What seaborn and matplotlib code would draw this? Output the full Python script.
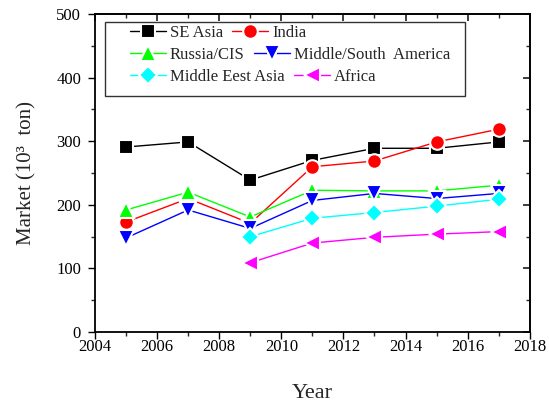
import matplotlib
matplotlib.use('Agg')
import matplotlib.pyplot as plt
import matplotlib.patches as mpatches
import seaborn as sns
import pandas as pd

years = [2005, 2007, 2009, 2011, 2013, 2015, 2017]
years_new = [2009, 2011, 2013, 2015, 2017]

se_asia = [291, 299, 239, 270, 289, 289, 299]
india = [173, 210, 171, 260, 269, 299, 319]
russia_cis = [192, 220, 181, 223, 222, 222, 231]
mid_south_america = [148, 192, 163, 207, 218, 210, 218]
middle_east_asia = [150, 179, 188, 198, 209]
africa = [109, 140, 149, 154, 158]

series = [
    ("SE Asia", years, se_asia, "black", "s", 9.5),
    ("India", years, india, "red", "o", 10.5),
    ("Russia/CIS", years, russia_cis, "#00ff00", "^", 11.5),
    ("Middle/South  America", years, mid_south_america, "blue", "v", 11.5),
    ("Middle Eest Asia", years_new, middle_east_asia, "cyan", "D", 9),
    ("Africa", years_new, africa, "magenta", "<", 11.5),
]

sns.set_theme(style="ticks")
plt.rcParams['font.family'] = ['Liberation Serif', 'DejaVu Serif']

fig = plt.figure(figsize=(5.49, 4.03), dpi=100)
ax = fig.add_axes([0.173, 0.176, 0.792, 0.789])

handles = {}
for name, xs, ys, color, marker, ms in series:
    df = pd.DataFrame({"year": xs, "market": ys})
    sns.lineplot(data=df, x="year", y="market", ax=ax, color=color,
                 marker=marker, markersize=ms,
                 markeredgecolor="white", markeredgewidth=1.5,
                 linewidth=1.0, label=name, legend=False)
    handles[name] = ax.get_lines()[-1]

ax.set_xlim(2004, 2018)
ax.set_ylim(0, 500)
ax.set_xticks(range(2004, 2019, 2))
ax.set_yticks(range(0, 501, 100))
ax.set_xticks(range(2005, 2018, 2), minor=True)
ax.set_yticks(range(50, 500, 100), minor=True)
ax.tick_params(which='major', direction='out', length=5, width=1,
               labelsize=12, colors='black')
ax.tick_params(axis='x', which='major', pad=0)
ax.tick_params(axis='y', which='major', pad=5)
ax.tick_params(which='minor', direction='out', length=3, width=1)
for sp in ax.spines.values():
    sp.set_linewidth(1.3)
    sp.set_color('black')

# mirrored inward ticks on top and right
top = ax.secondary_xaxis('top')
top.set_xticks(range(2004, 2019, 2))
top.set_xticks(range(2005, 2018, 2), minor=True)
top.tick_params(which='both', direction='in', labeltop=False, length=3)
top.tick_params(which='major', length=5)
right = ax.secondary_yaxis('right')
right.set_yticks(range(0, 501, 100))
right.set_yticks(range(50, 500, 100), minor=True)
right.tick_params(which='both', direction='in', labelright=False, length=3)
right.tick_params(which='major', length=5)

ax.set_xlabel("Year", fontsize=16, labelpad=21)
ax.set_ylabel("Market (10³  ton)", fontsize=15, labelpad=14)

# legend: three flowing rows inside one frame
rows = [("SE Asia", "India"),
        ("Russia/CIS", "Middle/South  America"),
        ("Middle Eest Asia", "Africa")]
row_y = [33, 55, 77]
for i, ((a, b), yp) in enumerate(zip(rows, row_y)):
    lg = ax.legend([handles[a], handles[b]], [a, b], ncol=2,
                   loc='center left',
                   bbox_to_anchor=(130 / 549, 1 - yp / 403),
                   bbox_transform=fig.transFigure,
                   fontsize=12, frameon=False, borderpad=0,
                   borderaxespad=0, handlelength=2.15,
                   handletextpad=0.25, columnspacing=0.55)
    if i < len(rows) - 1:
        ax.add_artist(lg)

frame = mpatches.Rectangle((105 / 549, 1 - 96 / 403), 360 / 549, 74 / 403,
                           transform=fig.transFigure, fill=False,
                           edgecolor='#333333', linewidth=1.0, zorder=5)
fig.patches.append(frame)

fig.savefig("out.png", dpi=100)
